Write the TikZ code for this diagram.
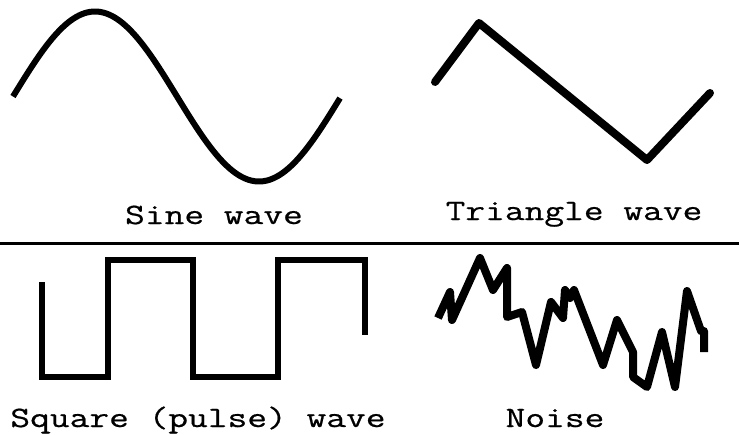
\documentclass[tikz,border=0pt]{standalone}
\usepackage{fontspec}
\setmonofont{Latin Modern Mono}[FakeStretch=1.3,FakeBold=0.6]
\begin{document}
\begin{tikzpicture}[x=1pt,y=-1pt,
  wave/.style={line width=#1},
  label/.style={anchor=base,inner sep=0pt,font=\ttfamily\fontsize{29.5}{29.5}\selectfont}]
\useasboundingbox (0,0) rectangle (739,434);
% sine
\draw[wave=6pt] plot[domain=13:340,samples=120,smooth] (\x,{96.5-85*sin((\x-13)/328*360)});
\node[label] (sine) at (214,224) {Sine wave};
% triangle
\draw[wave=8pt,line cap=round,line join=round] (435,82) -- (479,23) -- (647,160) -- (710,93);
\node[label] (tri) at (574,220) {Triangle wave};
% separator
\draw[line width=3pt] (0,243) -- (739,243);
% square
\draw[wave=6pt,line join=miter] (42,282) -- (42,377) -- (108,377) -- (108,260) -- (193,260) -- (193,377) -- (278,377) -- (278,260) -- (365,260) -- (365,335);
\node[label] (sq) at (198,427) {Square (pulse) wave};
% noise
\draw[wave=8pt,line join=round] (438,318) -- (450,292) -- (452,320) -- (480,258) -- (493,290) -- (507,268) -- (507,317) -- (522,312) -- (536,365) -- (551,302) -- (563,318) -- (565,290) -- (570,298) -- (574,290) -- (603,365) -- (617,320) -- (633,352) -- (633,377) -- (647,387) -- (662,332) -- (675,387) -- (687,291) -- (701,331) -- (704,331) -- (704,352);
\node[label] (noise) at (555,427) {Noise};
\end{tikzpicture}
\end{document}
